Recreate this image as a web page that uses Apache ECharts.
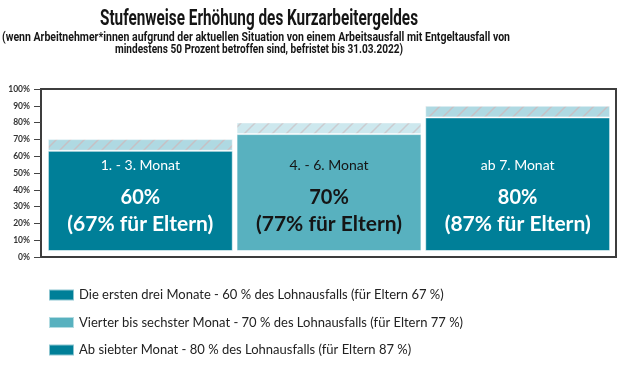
<!DOCTYPE html>
<html><head><meta charset="utf-8">
<script src="https://cdn.jsdelivr.net/npm/echarts@6/dist/echarts.min.js"></script>
<style>html,body{margin:0;padding:0;background:#fff}#c{width:630px;height:369px}</style>
</head><body><div id="c"></div>
<script>
// ---- data ----
const categories = ['1. - 3. Monat', '4. - 6. Monat', 'ab 7. Monat'];
const rates = [60, 70, 80];
const parentRates = [67, 77, 87];
const legendNames = [
  'Die ersten drei Monate - 60 % des Lohnausfalls (für Eltern 67 %)',
  'Vierter bis sechster Monat - 70 % des Lohnausfalls (für Eltern 77 %)',
  'Ab siebter Monat - 80 % des Lohnausfalls (für Eltern 87 %)'
];
const yMin = 0, yMax = 100, yStep = 10;
const titleText = 'Stufenweise Erhöhung des Kurzarbeitergeldes';
const subtitleLines = [
  '(wenn Arbeitnehmer*innen aufgrund der aktuellen Situation von einem Arbeitsausfall mit Entgeltausfall von',
  'mindestens 50 Prozent betroffen sind, befristet bis 31.03.2022)'
];

// ---- styles ----
const barColors = ['#007f98', '#58b1bf', '#007f98'];
const labelColors = ['#ffffff', '#151515', '#ffffff'];
const hatchBg = ['#afd9e2', '#cde8ee', '#afd9e2'];
const hatchLine = ['#c6c0c4', '#cbcbcf', '#c6c0c4'];

function hatch(bg, line) {
  const s = 14;
  const c = document.createElement('canvas');
  c.width = s; c.height = s;
  const g = c.getContext('2d');
  g.fillStyle = bg; g.fillRect(0, 0, s, s);
  g.strokeStyle = line; g.lineWidth = 1.5;
  g.beginPath();
  g.moveTo(-2, s + 2); g.lineTo(s + 2, -2);
  g.moveTo(-s / 2 - 2, s / 2 + 2); g.lineTo(s / 2 + 2, -s / 2 - 2);
  g.moveTo(s / 2 - 2, s * 1.5 + 2); g.lineTo(s * 1.5 + 2, s / 2 - 2);
  g.stroke();
  return c;
}

// condensed look: scale a regular font horizontally to the reference width
const mctx = document.createElement('canvas').getContext('2d');
function fitScale(text, fontCss, target) {
  mctx.font = fontCss;
  const w = mctx.measureText(text).width;
  return w > 0 ? target / w : 1;
}
const headFont = 'Roboto';
function headText(text, x, y, size, weight, target) {
  const s = fitScale(text, weight + ' ' + size + 'px ' + headFont, target);
  return {
    type: 'text', x: x, y: y, scaleX: s, scaleY: 1,
    style: { text: text, fontFamily: headFont, fontSize: size, fontWeight: weight, fill: '#151515',
      align: 'center', verticalAlign: 'middle', textAlign: 'center', textVerticalAlign: 'middle' }
  };
}

const font = 'Lato';
const series = [];
categories.forEach((cat, i) => {
  series.push({
    name: legendNames[i],
    type: 'bar',
    stack: 'k',
    xAxisIndex: 1, yAxisIndex: 1,
    barCategoryGap: '2%',
    data: rates.map((v, j) => j === i ? v : '-'),
    itemStyle: { color: barColors[i], borderColor: 'rgba(255,255,255,0.55)', borderWidth: 1 },
    label: {
      show: true,
      position: 'insideBottom',
      distance: 12,
      align: 'center',
      formatter: () => '{a|' + categories[i] + '}\n{b|' + rates[i] + '%}\n{c|(' + parentRates[i] + '% für Eltern)}',
      rich: {
        a: { fontFamily: font, fontSize: 14, lineHeight: 44, color: labelColors[i] },
        b: { fontFamily: font, fontSize: 20, fontWeight: 'bold', lineHeight: 22, color: labelColors[i] },
        c: { fontFamily: font, fontSize: 21, fontWeight: 'bold', lineHeight: 30, color: labelColors[i] }
      }
    },
    emphasis: { disabled: true },
    silent: true
  });
});
series.push({
  name: 'Eltern',
  type: 'bar',
  stack: 'k',
  xAxisIndex: 1, yAxisIndex: 1,
  barCategoryGap: '2%',
  data: parentRates.map((p, i) => ({
    value: p - rates[i],
    itemStyle: { color: { image: hatch(hatchBg[i], hatchLine[i]), repeat: 'repeat' } }
  })),
  itemStyle: { borderColor: 'rgba(255,255,255,0.5)', borderWidth: 1 },
  emphasis: { disabled: true },
  silent: true
});

const chart = echarts.init(document.getElementById('c'), null, { renderer: 'canvas' });
chart.setOption({
  animation: false,
  backgroundColor: '#ffffff',
  graphic: [
    headText(titleText, 259, 20, 21.5, 'bold', 318),
    headText(subtitleLines[0], 256, 38, 13.5, 'bold', 508),
    headText(subtitleLines[1], 259, 49.5, 13.5, 'bold', 288)
  ],
  legend: {
    data: legendNames,
    orient: 'vertical',
    left: 48,
    top: 288,
    padding: 0,
    itemWidth: 25,
    itemHeight: 11,
    itemGap: 13.5,
    icon: 'rect',
    selectedMode: false,
    textStyle: { fontFamily: font, fontSize: 13, lineHeight: 14, color: '#222' }
  },
  grid: [
    { left: 41, top: 89, width: 575, height: 168, show: true, borderColor: '#3d3d3d', borderWidth: 2, backgroundColor: 'transparent', containLabel: false },
    { left: 46, top: 84, width: 566, height: 167, containLabel: false }
  ],
  xAxis: [
    { gridIndex: 0, type: 'category', data: categories, show: false },
    { gridIndex: 1, type: 'category', data: categories, show: false }
  ],
  yAxis: [
    {
      gridIndex: 0, type: 'value', min: yMin, max: yMax, interval: yStep,
      axisLine: { show: false },
      axisTick: { show: true, length: 7, lineStyle: { color: '#444', width: 1 } },
      splitLine: { show: false },
      axisLabel: { formatter: '{value}%', fontFamily: font, fontSize: 8.5, fontWeight: 'bold', color: '#333', margin: 11 }
    },
    { gridIndex: 1, type: 'value', min: yMin, max: yMax, show: false, splitLine: { show: false } }
  ],
  series: series
});
</script>
</body></html>
